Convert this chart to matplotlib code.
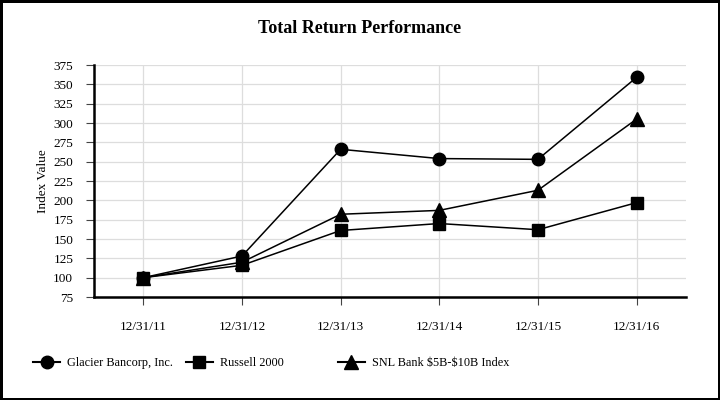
import matplotlib
matplotlib.use("Agg")
import matplotlib.pyplot as plt
from matplotlib.lines import Line2D

plt.rcParams['font.family'] = ['Liberation Serif', 'DejaVu Serif']

# data
years = ['12/31/11', '12/31/12', '12/31/13', '12/31/14', '12/31/15', '12/31/16']
glacier = [100, 128, 266, 254, 253, 359]
russell = [100, 116, 161, 170, 162, 197]
snl = [100, 120, 182, 187, 213, 305]
series_names = ['Glacier Bancorp, Inc.', 'Russell 2000', r'SNL Bank \$5B-\$10B Index']
yticks = list(range(75, 376, 25))

fig = plt.figure(figsize=(7.2, 4), dpi=100)
fig.patch.set_edgecolor('black')
fig.patch.set_linewidth(2.5)
ax = fig.add_axes([0.1306, 0.2575, 0.822, 0.58])

x = range(len(years))
ax.plot(x, glacier, color='black', lw=1.1, marker='o', ms=9)
ax.plot(x, russell, color='black', lw=1.1, marker='s', ms=8.8)
ax.plot(x, snl, color='black', lw=1.1, marker='^', ms=9.5)

ax.set_xlim(-0.5, 5.5)
ax.set_ylim(75, 375)
ax.set_xticks(list(x))
ax.set_xticklabels(years)
ax.set_yticks(yticks)
ax.tick_params(labelsize=9.5, length=6, width=0.8, color='#444444')
ax.tick_params(axis='y', pad=9)
ax.tick_params(axis='x', pad=11)
ax.grid(True, color='#dddddd', lw=0.9)
ax.set_axisbelow(True)
for s in ['top', 'right']:
    ax.spines[s].set_visible(False)
for s in ['left', 'bottom']:
    ax.spines[s].set_linewidth(1.8)
ax.set_ylabel('Index Value', fontsize=9.5, labelpad=3)

fig.suptitle('Total Return Performance', fontsize=13, fontweight='bold', y=0.95)

# legend: three evenly spaced entries
markers = ['o', 's', '^']
sizes = [9, 8.8, 9.5]
xpos = [0.046, 0.258, 0.469]
for name, m, sz, xp in zip(series_names, markers, sizes, xpos):
    h = Line2D([], [], color='black', lw=1.5, marker=m, ms=sz)
    fig.legend([h], [name], loc='center left', bbox_to_anchor=(xp, 0.093),
               frameon=False, fontsize=8.8, handlelength=2.2, handletextpad=0.6,
               borderaxespad=0, borderpad=0)

fig.savefig('out.png', dpi=100)
